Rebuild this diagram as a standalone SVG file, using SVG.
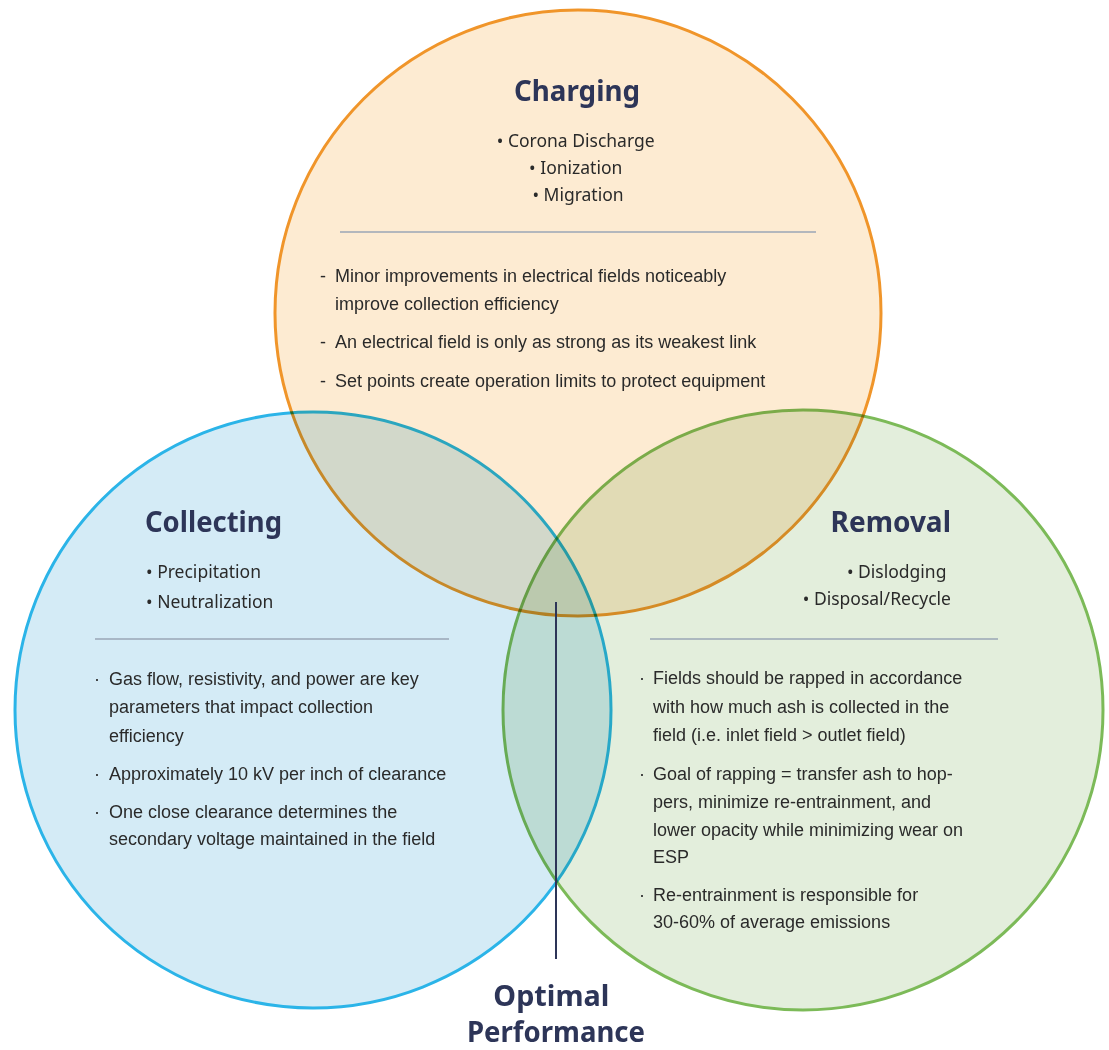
<svg xmlns="http://www.w3.org/2000/svg" width="1109" height="1050" viewBox="0 0 1109 1050">
  <style>
    .ring { stroke-width: 3; mix-blend-mode: multiply; }
    .title { font-family: "Noto Sans", "Open Sans", sans-serif; font-weight: 700; font-size: 28px; fill: #2d3558; }
    .item { font-family: "Noto Sans", "Open Sans", sans-serif; font-size: 17.5px; fill: #2a2a2a; }
    .body { font-family: "Liberation Sans", Arial, sans-serif; font-size: 18px; fill: #2a2a2a; }
    .rule { stroke: #9aa6b6; stroke-width: 1.5; }
  </style>
  <rect width="1109" height="1050" fill="#ffffff"/>
  <g style="isolation:isolate">
    <!-- Charging -->
    <g id="charging">
      <circle class="ring" cx="578" cy="313" r="303" fill="#fdebd2" stroke="#f0952a"/>
      <text class="title" x="577" y="101" text-anchor="middle" textLength="126" lengthAdjust="spacingAndGlyphs">Charging</text>
      <text class="item" text-anchor="middle" font-size="18">
        <tspan x="578" y="147">• Corona Discharge</tspan>
        <tspan x="578" y="174">• Ionization</tspan>
        <tspan x="578" y="201">• Migration</tspan>
      </text>
      <line class="rule" x1="340" y1="232" x2="816" y2="232"/>
      <text class="body" font-size="18.5">
        <tspan x="320" y="282">-</tspan>
        <tspan x="335" y="282">Minor improvements in electrical fields noticeably</tspan>
        <tspan x="335" y="310">improve collection efficiency</tspan>
        <tspan x="320" y="348">-</tspan>
        <tspan x="335" y="348">An electrical field is only as strong as its weakest link</tspan>
        <tspan x="320" y="387">-</tspan>
        <tspan x="335" y="387">Set points create operation limits to protect equipment</tspan>
      </text>
    </g>
    <!-- Collecting -->
    <g id="collecting">
      <circle class="ring" cx="313" cy="710" r="298" fill="#d4ebf6" stroke="#2bb4e8"/>
      <text class="title" x="145" y="532" textLength="137" lengthAdjust="spacingAndGlyphs">Collecting</text>
      <text class="item">
        <tspan x="146" y="578">• Precipitation</tspan>
        <tspan x="146" y="608">• Neutralization</tspan>
      </text>
      <line class="rule" x1="95" y1="639" x2="449" y2="639"/>
      <text class="body">
        <tspan x="94" y="685">·</tspan>
        <tspan x="109" y="685">Gas flow, resistivity, and power are key</tspan>
        <tspan x="109" y="713">parameters that impact collection</tspan>
        <tspan x="109" y="742">efficiency</tspan>
        <tspan x="94" y="780">·</tspan>
        <tspan x="109" y="780">Approximately 10 kV per inch of clearance</tspan>
        <tspan x="94" y="818">·</tspan>
        <tspan x="109" y="818">One close clearance determines the</tspan>
        <tspan x="109" y="845">secondary voltage maintained in the field</tspan>
      </text>
    </g>
    <!-- Removal -->
    <g id="removal">
      <circle class="ring" cx="803" cy="710" r="300" fill="#e3eedc" stroke="#7cba58"/>
      <text class="title" x="951" y="532" text-anchor="end">Removal</text>
      <text class="item" text-anchor="end">
        <tspan x="951" y="578">• Dislodging</tspan>
        <tspan x="951" y="605">• Disposal/Recycle</tspan>
      </text>
      <line class="rule" x1="650" y1="639" x2="998" y2="639"/>
      <text class="body">
        <tspan x="639" y="684">·</tspan>
        <tspan x="653" y="684">Fields should be rapped in accordance</tspan>
        <tspan x="653" y="713">with how much ash is collected in the</tspan>
        <tspan x="653" y="741">field (i.e. inlet field &gt; outlet field)</tspan>
        <tspan x="639" y="780">·</tspan>
        <tspan x="653" y="780">Goal of rapping = transfer ash to hop-</tspan>
        <tspan x="653" y="808">pers, minimize re-entrainment, and</tspan>
        <tspan x="653" y="836">lower opacity while minimizing wear on</tspan>
        <tspan x="653" y="863">ESP</tspan>
        <tspan x="639" y="901">·</tspan>
        <tspan x="653" y="901">Re-entrainment is responsible for</tspan>
        <tspan x="653" y="928">30-60% of average emissions</tspan>
      </text>
    </g>
  </g>
  <!-- Pointer from the shared centre to its caption -->
  <g id="connectors">
    <line x1="556" y1="602" x2="556" y2="959" stroke="#2d3558" stroke-width="2"/>
  </g>
  <g id="optimal">
    <text class="title" text-anchor="middle" font-size="28">
      <tspan x="555" y="1006" textLength="116" lengthAdjust="spacingAndGlyphs">Optimal</tspan>
      <tspan x="556" y="1042" textLength="178" lengthAdjust="spacingAndGlyphs">Performance</tspan>
    </text>
  </g>
</svg>
